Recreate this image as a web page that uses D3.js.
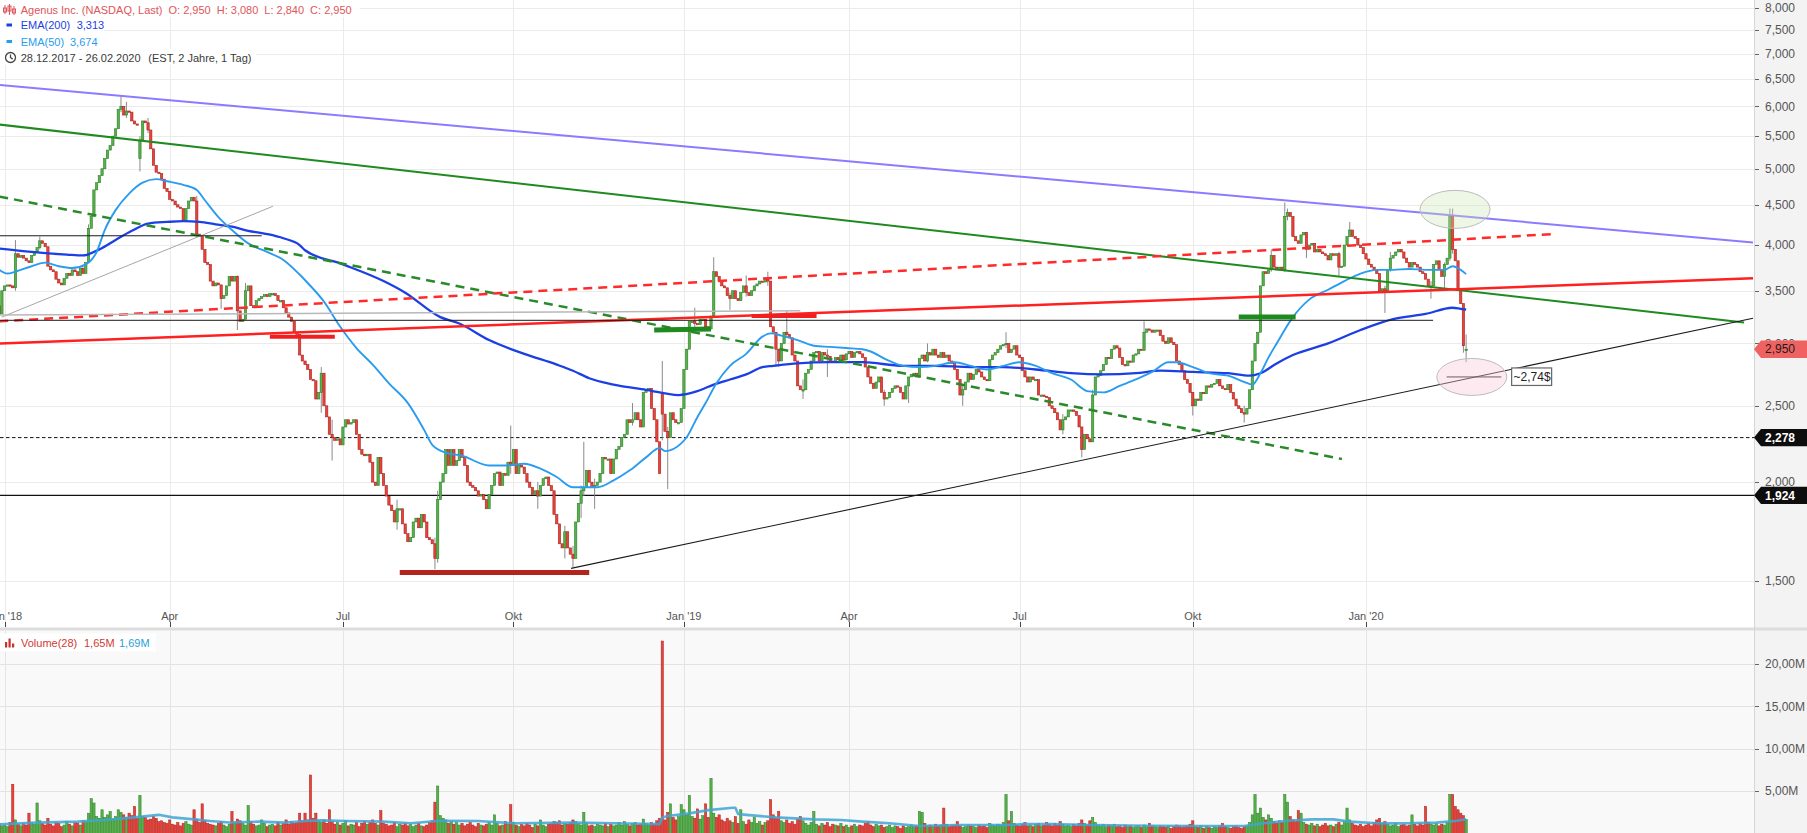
<!DOCTYPE html>
<html>
<head>
<meta charset="utf-8">
<script src="https://cdn.jsdelivr.net/npm/d3@7"></script>
<style>
  html, body { margin: 0; padding: 0; background: #fff; overflow: hidden; }
  svg { display: block; font-family: "Liberation Sans", Arial, sans-serif; }
</style>
</head>
<body>
<svg id="chart" width="1807" height="833"></svg>
<script>
// ---------------- data ----------------
// Agenus Inc. (NASDAQ) daily closes, 28.12.2017 - 26.02.2020 (one value per trading day)
const closes = [
  3.27,3.50,3.55,3.56,3.55,3.53,3.90,3.86,3.88,3.85,
  3.82,3.80,3.88,3.92,3.97,4.05,4.02,3.98,3.76,3.72,
  3.70,3.62,3.58,3.56,3.63,3.68,3.66,3.72,3.70,3.66,
  3.74,3.68,3.80,4.20,4.35,4.70,4.80,4.90,5.00,5.15,
  5.28,5.35,5.50,5.62,5.95,6.00,5.85,5.92,5.90,5.75,
  5.70,5.68,5.44,5.75,5.72,5.60,5.30,5.05,4.95,4.93,
  4.85,4.72,4.68,4.57,4.55,4.50,4.47,4.45,4.30,4.45,
  4.55,4.60,4.55,4.13,4.10,3.95,3.80,3.78,3.60,3.55,
  3.58,3.56,3.42,3.45,3.55,3.65,3.60,3.65,3.30,3.20,
  3.22,3.50,3.55,3.35,3.33,3.40,3.42,3.44,3.46,3.44,
  3.47,3.47,3.45,3.40,3.40,3.33,3.28,3.24,3.20,3.10,
  3.08,2.90,2.85,2.82,2.78,2.70,2.69,2.55,2.60,2.75,
  2.50,2.42,2.30,2.28,2.26,2.27,2.23,2.35,2.40,2.37,
  2.38,2.40,2.30,2.20,2.17,2.16,2.17,2.12,2.00,1.98,
  2.15,2.05,1.98,1.92,1.87,1.84,1.78,1.85,1.85,1.77,
  1.72,1.68,1.70,1.78,1.80,1.75,1.82,1.78,1.70,1.69,
  1.67,1.60,1.90,2.00,2.05,2.20,2.10,2.20,2.10,2.13,
  2.20,2.15,2.10,2.00,1.98,1.97,1.95,1.92,1.93,1.90,
  1.85,1.93,1.98,2.05,2.06,1.98,2.05,2.04,2.12,2.10,
  2.20,2.05,2.10,2.09,2.05,2.00,1.97,1.93,1.95,1.92,
  1.98,2.02,2.03,1.98,1.95,1.82,1.77,1.67,1.65,1.73,
  1.65,1.62,1.60,1.78,1.88,1.95,1.97,2.07,2.00,1.97,
  1.98,2.00,2.05,2.15,2.14,2.14,2.05,2.14,2.20,2.22,
  2.28,2.30,2.40,2.38,2.40,2.45,2.40,2.35,2.60,2.62,
  2.63,2.48,2.40,2.25,2.05,2.44,2.32,2.28,2.45,2.40,
  2.38,2.38,2.48,2.78,2.95,3.20,3.20,3.18,3.17,3.22,
  3.22,3.15,3.13,3.25,3.70,3.65,3.60,3.55,3.53,3.45,
  3.42,3.50,3.42,3.40,3.48,3.55,3.48,3.45,3.50,3.55,
  3.57,3.60,3.59,3.62,3.60,3.15,3.10,2.95,2.85,3.00,
  3.10,3.08,3.05,2.90,2.85,2.65,2.62,2.62,2.75,2.78,
  2.85,2.92,2.93,2.85,2.92,2.90,2.89,2.85,2.84,2.88,
  2.86,2.90,2.86,2.91,2.93,2.88,2.92,2.93,2.91,2.88,
  2.80,2.72,2.67,2.63,2.68,2.72,2.60,2.55,2.56,2.60,
  2.63,2.65,2.64,2.60,2.55,2.65,2.72,2.74,2.75,2.72,
  2.87,2.90,2.85,2.92,2.90,2.95,2.90,2.88,2.92,2.88,
  2.90,2.85,2.83,2.78,2.70,2.58,2.62,2.68,2.75,2.70,
  2.74,2.78,2.76,2.72,2.70,2.69,2.86,2.90,2.92,2.95,
  2.98,2.99,3.00,2.92,2.95,2.98,2.90,2.88,2.77,2.72,
  2.68,2.72,2.70,2.70,2.58,2.58,2.57,2.56,2.50,2.48,
  2.45,2.40,2.33,2.40,2.42,2.47,2.47,2.46,2.43,2.35,
  2.20,2.30,2.27,2.25,2.58,2.72,2.73,2.77,2.82,2.88,
  2.87,2.95,2.98,2.96,2.88,2.82,2.81,2.85,2.84,2.90,
  2.91,2.95,2.94,3.10,3.13,3.12,3.10,3.12,3.12,3.07,
  3.02,3.00,3.05,3.01,2.99,2.85,2.82,2.77,2.70,2.67,
  2.60,2.50,2.55,2.54,2.60,2.59,2.65,2.64,2.66,2.67,
  2.70,2.65,2.63,2.62,2.66,2.60,2.55,2.50,2.48,2.45,
  2.44,2.48,2.62,2.85,3.00,3.10,3.55,3.70,3.68,3.72,
  3.88,3.75,3.72,3.75,3.72,4.35,4.40,4.35,4.10,4.05,
  4.02,4.12,4.15,3.95,4.00,4.02,3.92,3.95,3.92,3.90,
  3.88,3.83,3.90,3.88,3.90,3.75,3.76,4.00,4.10,4.18,
  4.10,4.08,4.00,3.97,3.90,3.84,3.78,3.75,3.72,3.68,
  3.50,3.52,3.50,3.72,3.85,3.88,3.92,3.95,3.92,3.85,
  3.80,3.75,3.80,3.78,3.75,3.70,3.68,3.62,3.55,3.55,
  3.78,3.82,3.72,3.65,3.78,3.85,4.35,3.95,3.82,3.50,
  3.37,2.98,2.95
];

// opens that differ from the prior close (gaps)
const openGaps = [[0, 3.35], [52, 5.15], [245, 2.60], [542, 2.95]];

// session extremes with visible wicks: [day, high, low]
const extremes = [
  [0,3.40,3.21],[6,4.06,3.50],[15,4.10,3.95],[33,4.25,3.80],[45,6.20,5.90],[47,6.08,5.80],
  [52,5.50,4.96],[55,5.80,5.55],[73,4.62,4.10],[82,3.56,3.32],[88,3.66,3.12],[91,3.58,3.30],
  [119,2.80,2.45],[123,2.40,2.13],[147,1.90,1.74],[161,1.70,1.55],[162,1.95,1.58],[189,2.36,2.05],
  [199,2.00,1.85],[209,1.76,1.60],[212,1.66,1.56],[215,1.98,1.80],[216,2.25,1.92],[220,2.02,1.85],
  [234,2.52,2.36],[245,2.85,2.26],[247,2.35,1.96],[257,3.33,3.12],[264,3.86,3.25],[270,3.48,3.31],
  [276,3.66,3.44],[284,3.70,3.55],[287,3.00,2.80],[288,2.95,2.80],[291,3.30,3.05],[297,2.70,2.55],
  [306,2.95,2.72],[327,2.62,2.50],[336,2.70,2.52],[343,3.00,2.84],[356,2.66,2.50],[372,3.10,2.96],
  [393,2.44,2.30],[400,2.35,2.15],[404,2.62,2.25],[423,3.20,2.94],[441,2.60,2.43],[460,2.50,2.38],
  [470,3.95,3.70],[475,4.53,3.70],[476,4.45,4.30],[483,4.12,3.85],[495,3.92,3.65],[499,4.28,4.10],
  [512,3.55,3.28],[514,3.92,3.70],[529,3.60,3.42],[534,3.80,3.52],[536,4.45,3.82],[537,4.45,3.90],
  [541,3.36,2.92],[542,3.08,2.84]
];

// daily volume, millions of shares
const volumes = [
  1.2,0.9,1.0,0.8,1.3,5.8,1.6,1.1,0.9,1.2,
  1.0,2.4,1.3,1.1,3.6,1.5,1.2,1.0,1.8,1.1,
  0.9,1.3,1.2,0.8,1.0,1.4,1.1,0.9,1.3,1.2,
  1.0,1.5,1.4,2.4,4.1,3.6,2.0,1.8,2.8,1.9,
  2.2,2.6,1.7,2.0,2.8,2.5,2.2,1.9,2.4,2.1,
  3.2,1.8,4.5,2.0,1.9,1.6,1.7,2.0,1.8,1.4,
  1.5,1.3,1.2,1.6,1.1,1.0,1.3,0.9,1.2,1.4,
  1.1,1.0,2.8,1.7,1.3,3.5,1.5,1.2,1.1,1.0,
  0.9,1.2,1.4,1.0,0.8,1.1,2.6,1.3,1.7,1.5,
  1.2,1.0,3.3,1.4,1.1,0.9,1.0,1.6,1.2,0.8,
  1.0,1.1,0.9,1.3,1.0,1.2,1.6,1.1,1.4,1.2,
  1.3,2.4,1.5,2.4,1.6,6.9,1.8,2.4,1.5,1.3,
  1.6,1.2,2.8,1.4,1.1,1.3,1.0,1.2,1.5,0.9,
  1.1,1.0,1.3,0.8,1.2,1.4,1.1,1.3,1.6,1.2,
  1.0,2.7,1.2,1.1,0.9,1.0,1.3,0.8,1.1,1.0,
  1.2,0.9,1.1,0.8,1.0,1.2,0.9,0.8,1.0,1.3,
  1.5,3.7,5.6,2.1,1.8,1.6,1.2,1.4,1.1,1.3,
  1.0,1.2,0.9,1.1,1.3,1.0,0.8,1.2,1.0,0.9,
  1.1,1.3,1.0,2.2,1.2,0.9,1.0,1.4,1.1,3.4,
  1.3,1.0,0.8,1.1,0.9,1.2,1.0,0.7,1.1,0.9,
  1.6,1.0,0.8,1.1,1.2,1.4,1.3,1.5,1.0,1.2,
  1.1,1.3,1.6,1.4,1.2,1.0,2.5,1.3,0.9,1.0,
  0.8,1.1,1.0,0.9,1.2,0.8,1.1,0.9,1.0,1.3,
  1.0,1.4,1.1,0.9,1.2,1.3,1.0,1.1,1.7,1.2,
  1.0,1.3,1.1,1.5,1.8,22.7,1.6,2.5,3.5,1.9,
  1.6,2.0,3.4,2.8,2.2,4.5,2.0,1.8,2.9,1.7,
  2.1,3.5,1.9,6.5,2.4,1.9,2.2,1.6,1.4,1.8,
  1.5,1.3,2.0,1.2,2.8,1.4,1.1,1.6,1.3,1.9,
  1.2,1.4,1.0,1.3,1.5,4.0,2.2,1.8,2.6,1.5,
  1.3,1.6,1.2,1.4,1.1,1.7,2.0,1.5,1.2,1.0,
  1.3,2.6,1.1,0.9,1.2,1.0,1.3,0.8,1.1,1.0,
  0.9,1.2,0.8,1.0,0.7,0.9,1.1,0.8,1.0,0.9,
  1.2,1.4,1.0,0.8,1.1,0.9,1.0,0.7,0.8,1.0,
  0.7,0.9,0.8,0.6,0.9,0.7,0.8,1.0,0.8,0.9,
  2.6,2.5,1.2,0.9,1.0,0.8,1.1,0.9,1.0,3.0,
  1.1,0.8,0.9,1.0,1.4,0.9,0.7,0.8,1.0,0.9,
  0.8,0.7,1.0,0.8,0.9,0.7,1.2,1.0,0.9,1.1,
  1.0,1.3,4.6,1.5,2.6,1.2,1.0,0.9,1.1,1.3,
  0.9,1.0,0.8,1.1,1.2,0.9,1.0,1.3,1.1,0.9,
  1.2,1.0,1.4,1.1,0.9,1.0,0.8,1.1,0.9,1.2,
  1.6,1.2,1.0,1.5,1.9,1.3,1.0,0.9,1.1,0.8,
  1.0,0.9,1.1,0.8,0.9,0.7,1.0,0.8,0.9,0.7,
  0.8,0.9,0.7,1.0,0.8,1.2,0.9,0.8,0.7,0.9,
  0.8,0.7,0.9,0.6,0.8,1.0,0.9,0.7,0.8,0.9,
  1.1,1.5,0.8,0.7,0.9,0.6,0.8,0.7,0.6,0.8,
  0.7,0.9,1.2,0.8,0.7,0.6,0.8,0.9,0.7,0.6,
  0.8,0.9,1.3,2.2,4.6,2.4,3.0,1.9,1.6,2.2,
  1.8,1.4,1.2,1.5,1.3,4.6,3.7,2.0,1.6,1.4,
  2.7,2.4,1.3,1.1,1.0,1.2,0.9,1.1,0.8,1.0,
  1.2,0.9,1.0,0.8,1.1,1.3,1.0,1.4,3.0,1.6,
  1.2,1.0,0.9,1.1,0.8,1.0,1.2,0.9,1.3,1.6,
  1.8,1.2,1.4,1.1,0.9,1.0,1.2,0.8,1.0,1.1,
  0.9,1.0,2.2,1.1,0.9,1.2,1.0,3.2,1.3,1.1,
  1.0,1.2,0.9,1.1,1.0,1.3,4.6,4.6,3.2,2.8,
  2.4,2.1,1.65
];

// EMA(200) of the close: [day, value]
const ema200 = [
  [0,3.96],[12,3.92],[25,3.89],[31,3.88],[37,3.95],[43,4.06],[49,4.17],[55,4.26],[62,4.28],
  [68,4.29],[74,4.28],[80,4.25],[86,4.22],[92,4.17],[99,4.13],[105,4.08],[111,4.00],[113,3.94],
  [127,3.78],[142,3.60],[150,3.48],[163,3.24],[170,3.18],[181,3.03],[194,2.91],[206,2.82],
  [212,2.77],[218,2.71],[227,2.66],[239,2.62],[251,2.58],[258,2.61],[264,2.66],[270,2.70],
  [276,2.74],[282,2.80],[286,2.81],[295,2.83],[307,2.84],[319,2.84],[334,2.81],[346,2.81],
  [359,2.80],[371,2.80],[383,2.78],[396,2.75],[408,2.74],[420,2.75],[429,2.77],[441,2.76],
  [454,2.75],[462,2.73],[466,2.75],[472,2.83],[478,2.90],[491,3.00],[503,3.12],[515,3.22],
  [527,3.27],[537,3.33],[540,3.32],[542,3.313]
];

// EMA(50) of the close: [day, value]
const ema50 = [
  [0,3.72],[3,3.68],[6,3.70],[12,3.76],[17,3.80],[22,3.76],[27,3.74],[32,3.78],[36,3.92],
  [39,4.18],[43,4.43],[48,4.65],[53,4.80],[58,4.85],[62,4.82],[68,4.77],[73,4.70],[76,4.56],
  [81,4.34],[86,4.18],[92,4.02],[99,3.92],[105,3.83],[111,3.67],[114,3.58],[120,3.39],
  [126,3.15],[132,2.96],[138,2.82],[144,2.67],[151,2.52],[157,2.33],[160,2.23],[165,2.18],
  [171,2.16],[181,2.10],[187,2.10],[194,2.11],[200,2.08],[206,2.03],[212,1.97],[218,1.97],
  [221,1.97],[227,2.01],[233,2.07],[239,2.15],[244,2.21],[246,2.19],[252,2.24],[254,2.28],
  [258,2.42],[261,2.52],[265,2.67],[270,2.81],[276,2.91],[282,3.06],[285,3.09],[289,3.07],
  [295,3.03],[301,2.98],[307,2.97],[313,2.96],[319,2.95],[322,2.93],[328,2.86],[334,2.81],
  [340,2.80],[346,2.81],[353,2.84],[359,2.81],[365,2.78],[371,2.81],[377,2.84],[383,2.81],
  [389,2.75],[396,2.70],[402,2.61],[408,2.60],[414,2.65],[420,2.70],[426,2.76],[432,2.84],
  [435,2.84],[441,2.80],[447,2.75],[454,2.73],[460,2.68],[463,2.66],[466,2.75],[469,2.88],
  [472,3.00],[478,3.24],[484,3.41],[491,3.51],[497,3.60],[503,3.68],[509,3.72],[515,3.72],
  [521,3.73],[527,3.72],[534,3.72],[537,3.76],[540,3.72],[542,3.674]
];

// 28-day average volume, millions: [day, value]
const volAvg = [
  [0,1.07],[14,1.28],[29,1.40],[39,1.60],[50,1.90],[59,2.20],[64,1.90],[71,1.70],[78,1.47],
  [85,1.30],[96,1.40],[106,1.28],[113,1.47],[119,1.55],[128,1.47],[142,1.40],[152,1.20],
  [163,1.51],[177,1.47],[191,1.20],[212,1.28],[227,1.20],[244,1.10],[245,1.90],[247,2.06],
  [255,2.37],[262,2.76],[271,3.04],[272,3.04],[273,2.30],[276,2.20],[287,1.90],[301,1.67],
  [311,1.60],[319,1.40],[329,1.20],[340,0.88],[354,1.00],[372,1.00],[379,1.10],[389,1.10],
  [403,1.00],[425,0.92],[446,0.88],[460,0.88],[467,1.20],[476,1.50],[485,1.67],[493,1.67],
  [499,1.40],[509,1.20],[520,1.20],[531,1.28],[538,1.47],[542,1.69]
];

// drawn studies: [start day, start price], [end day, end price], kind
const drawings = [
  { a: [0, 6.39],     b: [648, 4.03],   kind: "purple" },
  { a: [0, 5.69],     b: [644.7, 3.19], kind: "green" },
  { a: [0, 4.61],     b: [496.1, 2.14], kind: "greenDash" },
  { a: [0, 3.20],     b: [574.1, 4.13], kind: "redDash" },
  { a: [0, 3.00],     b: [648, 3.63],   kind: "red" },
  { a: [211.3, 1.554],b: [648, 3.23],   kind: "black" },
  { a: [0.9, 3.24],   b: [101.1, 4.48], kind: "gray" },
  { a: [0, 4.11],     b: [97, 4.11],    kind: "thin" },
  { a: [0, 3.26],     b: [296, 3.30],   kind: "grayLevel" },
  { a: [0, 3.21],     b: [529.8, 3.21], kind: "thin" },
  { a: [100, 3.06],   b: [124, 3.06],   kind: "redBar" },
  { a: [148, 1.536],  b: [218, 1.536],  kind: "darkRedBar" },
  { a: [278, 3.25],   b: [302, 3.25],   kind: "redBar" },
  { a: [242, 3.12],   b: [263, 3.13],   kind: "greenBar" },
  { a: [458, 3.24],   b: [479, 3.24],   kind: "greenBar" },
  { a: [534.8, 2.72], b: [555, 2.72],   kind: "thin" }
];

// marked zones: centre [day, price]
const zones = [
  { c: [537.9, 4.44], kind: "greenZone" },
  { c: [544.1, 2.72], kind: "pinkZone" }
];
const targetNote = { at: [559, 2.72], text: "~2,74$" };

const dashedLevel = 2.278;
const solidLevel = 1.924;

const priceTicks = [1.5, 2, 2.5, 3, 3.5, 4, 4.5, 5, 5.5, 6, 6.5, 7, 7.5, 8];
const volumeTicks = [5, 10, 15, 20];
const monthNames = { 0: "Jan", 3: "Apr", 6: "Jul", 9: "Okt" };
const holidays = [
  "2018-01-01","2018-01-15","2018-02-19","2018-03-30","2018-05-28","2018-07-04","2018-09-03",
  "2018-11-22","2018-12-05","2018-12-25","2019-01-01","2019-01-21","2019-02-18","2019-04-19",
  "2019-05-27","2019-07-04","2019-09-02","2019-11-28","2019-12-25","2020-01-01","2020-01-20",
  "2020-02-17"
];
const quoteParts = ["Agenus Inc. (NASDAQ, Last)", "O: 2,950", "H: 3,080", "L: 2,840", "C: 2,950"];

// ---------------- layout ----------------
const W = 1807, H = 833;
const PLOT_R = 1754;
const MAIN_BOTTOM = 627.5;
const VOL_TOP = 630.5;
const FONT = '"Liberation Sans", Arial, sans-serif';

const COLORS = {
  up: "#55b24a", upEdge: "#2e7d25",
  down: "#e8433b", downEdge: "#a8221c",
  wick: "#7d7d7d",
  grid: "#ebebeb",
  axisText: "#555",
  ema200: "#1b3fe4",
  ema50: "#2a9cf0",
  volAvg: "#3ea6d6"
};
const STROKES = {
  purple:     { c: "#8b7bff", w: 2 },
  green:      { c: "#1f8a1f", w: 2 },
  greenDash:  { c: "#2a8a2a", w: 2.5, d: "9,6" },
  redDash:    { c: "#ff2a2a", w: 2.5, d: "9,6" },
  red:        { c: "#ff2020", w: 2.5 },
  black:      { c: "#1a1a1a", w: 1.1 },
  gray:       { c: "#a6a6a6", w: 1 },
  thin:       { c: "#1a1a1a", w: 1 },
  grayLevel:  { c: "#b8b8b8", w: 1.5 },
  redBar:     { c: "#f02020", w: 4 },
  darkRedBar: { c: "#b3241c", w: 5 },
  greenBar:   { c: "#1f8a1f", w: 5 }
};

const svg = d3.select("#chart");

// trading calendar
const fmtKey = d3.timeFormat("%Y-%m-%d");
const holidaySet = new Set(holidays);
const days = [];
for (let d = new Date(2017, 11, 28); d <= new Date(2020, 1, 26); d = d3.timeDay.offset(d, 1)) {
  const wd = d.getDay();
  if (wd === 0 || wd === 6 || holidaySet.has(fmtKey(d))) continue;
  days.push(d);
}

// scales
const x = d3.scaleLinear().domain([0, 648]).range([-0.8, -0.8 + 648 * 2.7065]);
const y = d3.scaleLog().domain([1.5, 8]).range([580.5, 8]);
const vy = d3.scaleLinear().domain([0, 23.94]).range([833.5, VOL_TOP]);

// candles
const openMap = new Map(openGaps);
const extMap = new Map(extremes.map(e => [e[0], e.slice(1)]));
const candles = closes.map((c, i) => {
  const o = openMap.has(i) ? openMap.get(i) : (i > 0 ? closes[i - 1] : c);
  const e = extMap.get(i);
  const hi = e ? Math.max(e[0], o, c) : Math.max(o, c);
  const lo = e ? Math.min(e[1], o, c) : Math.min(o, c);
  return { i, o, c, hi, lo, v: volumes[i], up: c >= o };
});

const fmtPrice = v => v.toFixed(3).replace(".", ",");
const fmtVol = v => v.toFixed(2).replace(".", ",") + "M";

// ---------------- panels ----------------
svg.append("rect").attr("x", 0).attr("y", 0).attr("width", W).attr("height", MAIN_BOTTOM).attr("fill", "#fff");
svg.append("rect").attr("x", 0).attr("y", VOL_TOP).attr("width", W).attr("height", H - VOL_TOP).attr("fill", "#f9f9f9");
svg.append("rect").attr("x", PLOT_R).attr("y", 0).attr("width", W - PLOT_R).attr("height", H).attr("fill", "#f3f3f3");
svg.append("rect").attr("x", 0).attr("y", MAIN_BOTTOM).attr("width", W).attr("height", VOL_TOP - MAIN_BOTTOM).attr("fill", "#dcdcdc");
svg.append("line").attr("x1", PLOT_R + 0.5).attr("x2", PLOT_R + 0.5).attr("y1", 0).attr("y2", H)
  .attr("stroke", "#d6d6d6");

const defs = svg.append("defs");
defs.append("clipPath").attr("id", "mainClip").append("rect")
  .attr("x", 0).attr("y", 0).attr("width", PLOT_R).attr("height", MAIN_BOTTOM);
defs.append("clipPath").attr("id", "volClip").append("rect")
  .attr("x", 0).attr("y", VOL_TOP).attr("width", PLOT_R).attr("height", H - VOL_TOP);

// ---------------- grid ----------------
const quarterStarts = [];
days.forEach((d, i) => {
  if (i > 0 && d.getMonth() !== days[i - 1].getMonth() && d.getMonth() % 3 === 0) {
    const m = d.getMonth();
    const label = m === 0 ? `Jan '${String(d.getFullYear()).slice(2)}` : monthNames[m];
    quarterStarts.push({ i, label });
  }
});

const grid = svg.append("g");
grid.selectAll("line.h").data(priceTicks).join("line")
  .attr("x1", 0).attr("x2", PLOT_R)
  .attr("y1", d => Math.round(y(d)) + 0.5).attr("y2", d => Math.round(y(d)) + 0.5)
  .attr("stroke", COLORS.grid);
grid.selectAll("line.vh").data(volumeTicks).join("line")
  .attr("x1", 0).attr("x2", PLOT_R)
  .attr("y1", d => Math.round(vy(d)) + 0.5).attr("y2", d => Math.round(vy(d)) + 0.5)
  .attr("stroke", "#e2e2e2");
grid.selectAll("line.v1").data(quarterStarts).join("line")
  .attr("x1", d => Math.round(x(d.i)) + 0.5).attr("x2", d => Math.round(x(d.i)) + 0.5)
  .attr("y1", 0).attr("y2", MAIN_BOTTOM)
  .attr("stroke", COLORS.grid);
grid.selectAll("line.v2").data(quarterStarts).join("line")
  .attr("x1", d => Math.round(x(d.i)) + 0.5).attr("x2", d => Math.round(x(d.i)) + 0.5)
  .attr("y1", VOL_TOP).attr("y2", H)
  .attr("stroke", "#e4e4e4");

// ---------------- price panel ----------------
const main = svg.append("g").attr("clip-path", "url(#mainClip)");

// horizontal levels
main.append("line").attr("x1", 0).attr("x2", PLOT_R)
  .attr("y1", y(dashedLevel)).attr("y2", y(dashedLevel))
  .attr("stroke", "#111").attr("stroke-width", 1).attr("stroke-dasharray", "3.5,2.5");
main.append("line").attr("x1", 0).attr("x2", PLOT_R)
  .attr("y1", y(solidLevel)).attr("y2", y(solidLevel))
  .attr("stroke", "#111").attr("stroke-width", 1.3);

// candles
const cg = main.append("g");
cg.selectAll("line.wick").data(candles.filter(d => d.hi > Math.max(d.o, d.c) || d.lo < Math.min(d.o, d.c)))
  .join("line")
  .attr("x1", d => x(d.i)).attr("x2", d => x(d.i))
  .attr("y1", d => y(d.hi)).attr("y2", d => y(d.lo))
  .attr("stroke", COLORS.wick).attr("stroke-width", 0.9);
cg.selectAll("rect.body").data(candles).join("rect")
  .attr("x", d => x(d.i) - 1.15)
  .attr("width", 2.3)
  .attr("y", d => y(Math.max(d.o, d.c)))
  .attr("height", d => Math.max(1.3, y(Math.min(d.o, d.c)) - y(Math.max(d.o, d.c))))
  .attr("fill", d => d.up ? COLORS.up : COLORS.down)
  .attr("stroke", d => d.up ? COLORS.upEdge : COLORS.downEdge)
  .attr("stroke-width", 0.6);

// moving averages
const emaLine = d3.line().x(d => x(d[0])).y(d => y(d[1])).curve(d3.curveMonotoneX);
main.append("path").attr("d", emaLine(ema200)).attr("fill", "none")
  .attr("stroke", COLORS.ema200).attr("stroke-width", 2.3).attr("stroke-linejoin", "round");
main.append("path").attr("d", emaLine(ema50)).attr("fill", "none")
  .attr("stroke", COLORS.ema50).attr("stroke-width", 1.9).attr("stroke-linejoin", "round");

// drawn studies
main.selectAll("line.study").data(drawings).join("line")
  .attr("x1", d => x(d.a[0])).attr("y1", d => y(d.a[1]))
  .attr("x2", d => x(d.b[0])).attr("y2", d => y(d.b[1]))
  .attr("stroke", d => STROKES[d.kind].c)
  .attr("stroke-width", d => STROKES[d.kind].w)
  .attr("stroke-dasharray", d => STROKES[d.kind].d || null);

// marked zones
const ZONE_STYLE = {
  greenZone: { fill: "rgba(205,228,180,0.35)", rx: 35, ry: 19 },
  pinkZone:  { fill: "rgba(248,200,215,0.38)", rx: 35, ry: 18.5 }
};
main.selectAll("ellipse.zone").data(zones).join("ellipse")
  .attr("cx", d => x(d.c[0])).attr("cy", d => y(d.c[1]))
  .attr("rx", d => ZONE_STYLE[d.kind].rx).attr("ry", d => ZONE_STYLE[d.kind].ry)
  .attr("fill", d => ZONE_STYLE[d.kind].fill)
  .attr("stroke", "#bdbdbd").attr("stroke-width", 1);

// target note
const noteG = main.append("g")
  .attr("transform", `translate(${x(targetNote.at[0])},${y(targetNote.at[1])})`);
noteG.append("rect").attr("x", -0.5).attr("y", -9).attr("width", 40).attr("height", 17.5)
  .attr("fill", "#fff").attr("stroke", "#666").attr("stroke-width", 1.2);
noteG.append("text").attr("x", 20).attr("y", 4.5).attr("text-anchor", "middle")
  .attr("font-family", FONT).attr("font-size", 12).attr("fill", "#222").text(targetNote.text);

// ---------------- volume panel ----------------
const vol = svg.append("g").attr("clip-path", "url(#volClip)");
vol.selectAll("rect.vbar").data(candles).join("rect")
  .attr("x", d => x(d.i) - 1.15).attr("width", 2.3)
  .attr("y", d => vy(d.v)).attr("height", d => vy(0) - vy(d.v))
  .attr("fill", d => d.up ? COLORS.up : COLORS.down)
  .attr("stroke", d => d.up ? COLORS.upEdge : COLORS.downEdge)
  .attr("stroke-width", 0.5);
const volLine = d3.line().x(d => x(d[0])).y(d => vy(d[1]));
vol.append("path").attr("d", volLine(volAvg)).attr("fill", "none")
  .attr("stroke", COLORS.volAvg).attr("stroke-width", 2.6).attr("stroke-opacity", 0.85)
  .attr("stroke-linejoin", "round");

// ---------------- x axis ----------------
const xAxis = svg.append("g");
xAxis.selectAll("line.tick").data(quarterStarts).join("line")
  .attr("x1", d => Math.round(x(d.i)) + 0.5).attr("x2", d => Math.round(x(d.i)) + 0.5)
  .attr("y1", 622).attr("y2", 627)
  .attr("stroke", "#444");
xAxis.selectAll("text").data(quarterStarts).join("text")
  .attr("x", d => x(d.i)).attr("y", 619.5).attr("text-anchor", "middle")
  .attr("font-family", FONT).attr("font-size", 11).attr("fill", COLORS.axisText)
  .text(d => d.label);

// ---------------- right axis ----------------
const yAxis = svg.append("g");
yAxis.selectAll("line.pt").data(priceTicks).join("line")
  .attr("x1", PLOT_R + 1).attr("x2", PLOT_R + 5)
  .attr("y1", d => Math.round(y(d)) + 0.5).attr("y2", d => Math.round(y(d)) + 0.5)
  .attr("stroke", "#666");
yAxis.selectAll("text.pt").data(priceTicks).join("text")
  .attr("x", PLOT_R + 11).attr("y", d => y(d) + 4.3)
  .attr("font-family", FONT).attr("font-size", 12).attr("fill", COLORS.axisText)
  .text(fmtPrice);
yAxis.selectAll("line.vt").data(volumeTicks).join("line")
  .attr("x1", PLOT_R + 1).attr("x2", PLOT_R + 5)
  .attr("y1", d => Math.round(vy(d)) + 0.5).attr("y2", d => Math.round(vy(d)) + 0.5)
  .attr("stroke", "#666");
yAxis.selectAll("text.vt").data(volumeTicks).join("text")
  .attr("x", PLOT_R + 11).attr("y", d => vy(d) + 4.3)
  .attr("font-family", FONT).attr("font-size", 12).attr("fill", COLORS.axisText)
  .text(fmtVol);

// price tags
const lastClose = closes[closes.length - 1];
const tags = [
  { v: lastClose, fill: "#f06262", text: "#1c1c1c", bold: false },
  { v: dashedLevel, fill: "#0d0d0d", text: "#fff", bold: true },
  { v: solidLevel, fill: "#0d0d0d", text: "#fff", bold: true }
];
const tagG = svg.append("g");
tags.forEach(t => {
  const cy = y(t.v);
  const h = 8.7;
  tagG.append("path")
    .attr("d", `M${PLOT_R},${cy} L${PLOT_R + 7},${cy - h} L${W},${cy - h} L${W},${cy + h} L${PLOT_R + 7},${cy + h} Z`)
    .attr("fill", t.fill);
  tagG.append("text").attr("x", PLOT_R + 11).attr("y", cy + 4.3)
    .attr("font-family", FONT).attr("font-size", 12)
    .attr("font-weight", t.bold ? "bold" : "normal")
    .attr("fill", t.text).text(fmtPrice(t.v));
});

// ---------------- legends ----------------
const lg = svg.append("g").attr("font-family", FONT).attr("font-size", 11);
const bgRow1 = lg.append("rect").attr("x", 0).attr("y", 1).attr("width", 356).attr("height", 16).attr("fill", "#fff").attr("opacity", 0.9);
lg.append("rect").attr("x", 0).attr("y", 17).attr("width", 104).attr("height", 16).attr("fill", "#fff").attr("opacity", 0.9);
lg.append("rect").attr("x", 0).attr("y", 33).attr("width", 99).attr("height", 16).attr("fill", "#fff").attr("opacity", 0.9);
lg.append("rect").attr("x", 0).attr("y", 49).attr("width", 256).attr("height", 16).attr("fill", "#fff").attr("opacity", 0.9);

// candle glyph
const glyph = lg.append("g").attr("stroke", "#e0555a").attr("fill", "none").attr("stroke-width", 1);
[[5, 5, 14, 8, 12], [9.5, 4, 15, 6, 11], [14, 6, 15, 9, 13]].forEach(([gx, t, b, bt, bb]) => {
  glyph.append("line").attr("x1", gx).attr("x2", gx).attr("y1", t).attr("y2", b);
  glyph.append("rect").attr("x", gx - 1.5).attr("y", bt).attr("width", 3).attr("height", bb - bt);
});
// quote line: parts laid out one after another with a fixed gap
let qx = 20.7;
quoteParts.forEach(t => {
  const node = lg.append("text").attr("x", qx).attr("y", 13.8).attr("fill", "#e0555a").text(t);
  qx += node.node().getComputedTextLength() + 6;
});
bgRow1.attr("width", qx + 2);

lg.append("rect").attr("x", 6.5).attr("y", 23.5).attr("width", 5.5).attr("height", 3).attr("fill", COLORS.ema200);
lg.append("text").attr("x", 20.7).attr("y", 29.2).attr("fill", COLORS.ema200).text("EMA(200)");
lg.append("text").attr("x", 76.7).attr("y", 29.2).attr("fill", COLORS.ema200).text(fmtPrice(ema200[ema200.length - 1][1]));

lg.append("rect").attr("x", 6.5).attr("y", 40).attr("width", 5.5).attr("height", 3).attr("fill", COLORS.ema50);
lg.append("text").attr("x", 20.7).attr("y", 45.5).attr("fill", COLORS.ema50).text("EMA(50)");
lg.append("text").attr("x", 70).attr("y", 45.5).attr("fill", COLORS.ema50).text(fmtPrice(ema50[ema50.length - 1][1]));

const clock = lg.append("g").attr("transform", "translate(10.5,57.5)").attr("stroke", "#444").attr("fill", "none").attr("stroke-width", 1.3);
clock.append("circle").attr("r", 5);
clock.append("path").attr("d", "M0,-3 L0,0 L2.2,1.6");
lg.append("text").attr("x", 20.7).attr("y", 61.5).attr("fill", "#3a3a3a").text("28.12.2017 - 26.02.2020");
lg.append("text").attr("x", 148.3).attr("y", 61.5).attr("fill", "#3a3a3a").text("(EST, 2 Jahre, 1 Tag)");

// volume legend
const vl = svg.append("g").attr("font-family", FONT).attr("font-size", 11);
vl.append("rect").attr("x", 0).attr("y", 633.5).attr("width", 156).attr("height", 18).attr("fill", "#fff");
[[5, 642], [8.5, 638.5], [12, 643.5]].forEach(([bx, by]) => {
  vl.append("rect").attr("x", bx).attr("y", by).attr("width", 2.2).attr("height", 647.5 - by).attr("fill", "#c8312b");
});
vl.append("text").attr("x", 21).attr("y", 646.5).attr("fill", "#d03a34").text("Volume(28)");
vl.append("text").attr("x", 84).attr("y", 646.5).attr("fill", "#d03a34").text(fmtVol(volumes[volumes.length - 1]));
vl.append("text").attr("x", 119).attr("y", 646.5).attr("fill", "#2aa0d8").text(fmtVol(volAvg[volAvg.length - 1][1]));
</script>
</body>
</html>
